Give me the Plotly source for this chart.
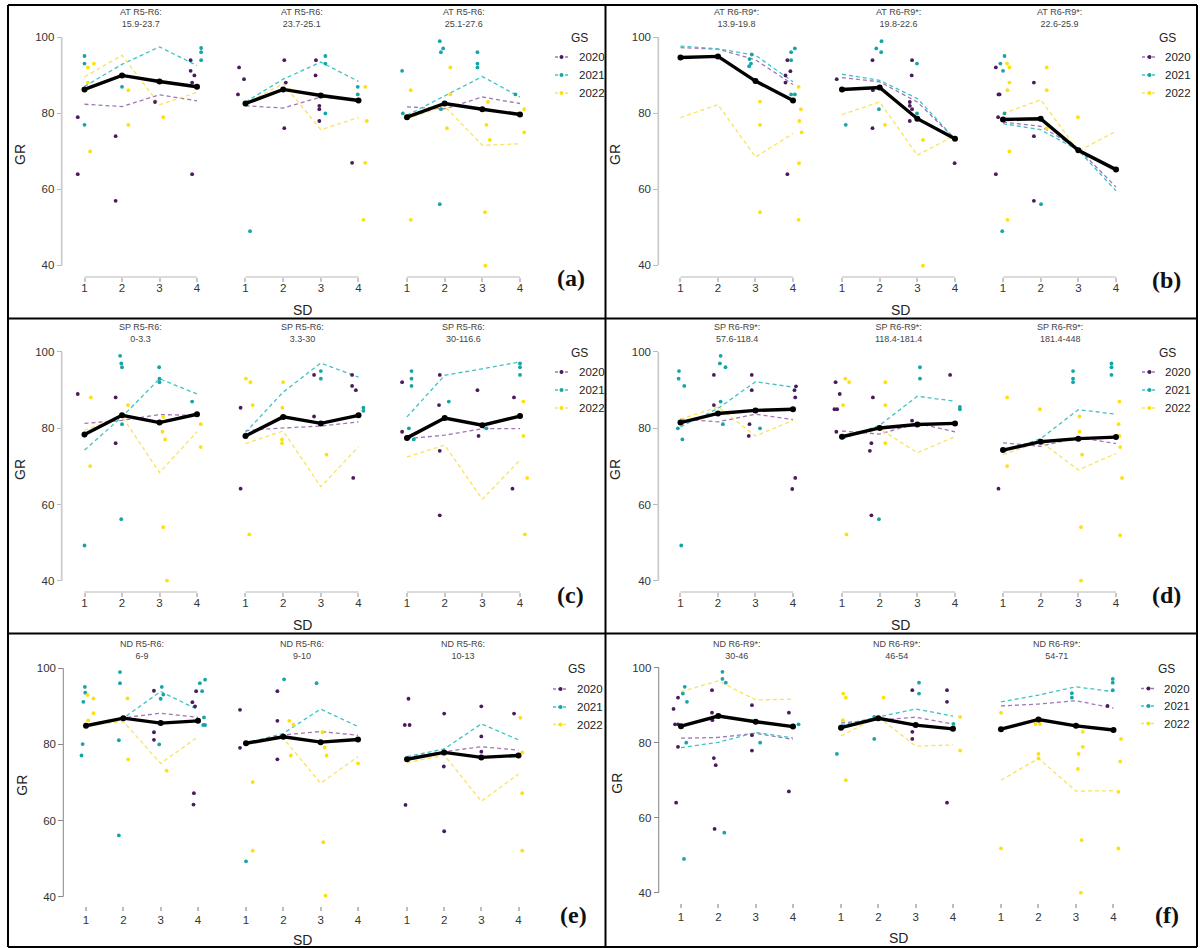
import plotly.graph_objects as go

W, H = 1200, 948

SD = [1, 2, 3, 4]
YEARS = ["2020", "2021", "2022"]

# subplot titles (two lines each)
a_titles = [("AT R5-R6:", "15.9-23.7"), ("AT R5-R6:", "23.7-25.1"), ("AT R5-R6:", "25.1-27.6")]
b_titles = [("AT R6-R9*:", "13.9-19.8"), ("AT R6-R9*:", "19.8-22.6"), ("AT R6-R9*:", "22.6-25.9")]
c_titles = [("SP R5-R6:", "0-3.3"), ("SP R5-R6:", "3.3-30"), ("SP R5-R6:", "30-116.6")]
d_titles = [("SP R6-R9*:", "57.6-118.4"), ("SP R6-R9*:", "118.4-181.4"), ("SP R6-R9*:", "181.4-448")]
e_titles = [("ND R5-R6:", "6-9"), ("ND R5-R6:", "9-10"), ("ND R5-R6:", "10-13")]
f_titles = [("ND R6-R9*:", "30-46"), ("ND R6-R9*:", "46-54"), ("ND R6-R9*:", "54-71")]

# ---- panel (a): yearly mean lines (SD 1..4) per subplot
a_2020 = [[82.3, 81.7, 84.8, 83.2], [81.9, 81.3, 84.2, 83.3], [81.6, 81.1, 84.2, 82.5]]
a_2021 = [[87.0, 92.8, 97.4, 92.5], [82.9, 88.9, 93.4, 88.3], [79.4, 84.6, 89.6, 84.2]]
a_2022 = [[89.5, 95.2, 82.2, 85.4], [82.5, 87.7, 75.6, 78.8], [78.5, 81.8, 71.5, 71.9]]
a_mean = [[86.2, 89.9, 88.3, 86.9], [82.5, 86.2, 84.6, 83.3], [78.9, 82.5, 81.0, 79.6]]
a_pts_2020 = [
    [(0.82, 78.9), (0.82, 63.9), (1.83, 73.9), (1.83, 56.9), (2.88, 82.9), (3.83, 93.9), (3.83, 91.1),
     (3.93, 89.9), (3.87, 88.0), (3.87, 63.9)],
    [(0.83, 92.0), (0.96, 88.9), (0.8, 84.9), (2.03, 93.9), (2.07, 88.0), (2.03, 76.0), (2.87, 93.9),
     (2.86, 89.9), (2.96, 81.9), (2.96, 81.0), (2.96, 77.9), (3.83, 66.9)],
    [],
]
a_pts_2021 = [
    [(1.0, 95.0), (1.0, 93.0), (1.0, 76.9), (2.0, 86.9), (4.11, 97.1), (4.11, 96.0), (4.11, 93.9)],
    [(1.12, 48.9), (3.12, 95.0), (3.12, 93.0), (3.12, 79.9), (3.98, 86.9), (3.98, 84.9)],
    [(0.87, 91.1), (0.89, 79.9), (1.87, 98.9), (1.96, 97.0), (1.9, 96.0), (1.9, 81.0), (1.87, 56.0),
     (2.87, 96.0), (2.87, 93.0), (2.87, 92.0), (3.88, 84.9)],
]
a_pts_2022 = [
    [(1.25, 93.0), (1.09, 92.0), (1.09, 88.0), (1.15, 69.9), (2.17, 86.0), (2.17, 76.9), (3.1, 78.9)],
    [(2.18, 86.0), (4.18, 86.9), (4.22, 77.9), (4.18, 66.9), (4.13, 51.9)],
    [(1.1, 86.0), (1.1, 51.9), (2.15, 92.0), (2.15, 84.9), (2.06, 76.0), (3.15, 82.9), (3.11, 76.9),
     (3.2, 72.9), (3.07, 53.9), (3.08, 39.8), (4.11, 81.0), (4.11, 74.9)],
]

# ---- panel (b)
b_2020 = [[97.2, 96.8, 94.0, 87.5], [89.3, 88.2, 82.9, 73.2], [77.6, 76.5, 70.6, 60.5]]
b_2021 = [[97.6, 96.9, 95.2, 88.2], [90.2, 88.6, 83.8, 73.2], [77.2, 75.6, 70.2, 59.5]]
b_2022 = [[78.8, 82.2, 68.4, 74.6], [79.6, 82.9, 68.9, 74.1], [79.8, 83.5, 70.0, 75.2]]
b_mean = [[94.6, 94.9, 88.4, 83.3], [86.2, 86.7, 78.5, 73.2], [78.3, 78.5, 70.2, 65.1]]
b_pts_2020 = [
    [(3.85, 93.9), (3.93, 91.0), (3.8, 89.9), (3.8, 88.0), (3.85, 63.9)],
    [(0.86, 88.9), (1.81, 93.9), (1.82, 86.0), (1.81, 76.0), (2.86, 93.9), (2.85, 89.9), (2.8, 82.9),
     (2.8, 81.9), (2.86, 81.0), (2.8, 77.9), (3.99, 66.8)],
    [(0.81, 92.0), (0.88, 84.9), (0.91, 84.9), (0.87, 78.9), (0.81, 63.9), (1.82, 88.0), (1.82, 73.9),
     (1.82, 56.9)],
]
b_pts_2021 = [
    [(2.83, 92.3), (2.88, 93.0), (2.9, 95.4), (2.84, 94.2), (3.95, 96.0), (4.05, 97.0), (3.95, 93.9),
     (4.05, 84.9), (3.95, 84.9)],
    [(1.1, 76.9), (1.91, 97.0), (2.05, 98.9), (2.04, 96.0), (1.98, 81.0), (2.99, 93.0), (2.99, 79.9),
     (4.0, 73.2)],
    [(0.93, 93.0), (1.04, 95.0), (1.0, 91.1), (1.04, 79.9), (0.98, 48.9), (2.01, 56.0)],
]
b_pts_2022 = [
    [(3.12, 83.0), (3.12, 76.9), (3.12, 53.9), (4.15, 86.9), (4.21, 81.0), (4.17, 77.9), (4.23, 74.9),
     (4.16, 66.8), (4.15, 51.9)],
    [(2.14, 76.9), (3.15, 72.9), (3.15, 39.8)],
    [(1.11, 93.0), (1.17, 92.0), (1.17, 88.0), (1.12, 86.0), (1.17, 69.9), (1.12, 51.9), (2.16, 92.0),
     (2.16, 86.0), (2.16, 76.0), (2.99, 78.9)],
]

# ---- panel (c)
c_2020 = [[81.3, 82.1, 83.6, 83.4], [79.4, 80.1, 80.6, 81.7], [77.3, 78.2, 79.9, 79.9]]
c_2021 = [[74.3, 83.0, 93.0, 89.0], [78.9, 89.5, 97.1, 93.4], [83.0, 93.9, 95.6, 97.4]]
c_2022 = [[79.5, 83.2, 68.4, 79.1], [76.0, 79.3, 64.7, 75.2], [72.5, 75.6, 61.4, 71.7]]
c_mean = [[78.4, 83.4, 81.5, 83.7], [78.0, 83.0, 81.3, 83.4], [77.5, 82.7, 80.8, 83.2]]
c_pts_2020 = [
    [(0.82, 89.0), (1.83, 88.1), (1.83, 76.1)],
    [(0.87, 85.4), (0.87, 64.2), (2.82, 94.0), (2.82, 83.1), (3.83, 94.0), (3.83, 91.1), (3.93, 90.0),
     (3.86, 67.0)],
    [(0.87, 92.1), (0.87, 79.1), (1.87, 94.0), (1.85, 86.1), (1.87, 74.1), (1.87, 57.2), (2.87, 90.0),
     (2.9, 78.0), (3.84, 88.1), (3.8, 64.2)],
]
c_pts_2021 = [
    [(1.0, 49.3), (1.95, 99.0), (1.98, 97.0), (2.0, 96.0), (2.0, 81.1), (1.98, 56.2), (2.99, 96.0),
     (3.0, 93.0), (3.0, 92.1), (3.87, 87.0)],
    [(3.0, 95.0), (3.0, 93.0), (4.13, 85.4), (4.13, 84.6)],
    [(1.12, 95.0), (1.12, 93.0), (1.12, 91.1), (1.05, 80.0), (1.18, 77.1), (2.11, 87.0), (3.11, 80.0),
     (4.0, 97.0), (4.0, 96.0), (4.0, 94.0)],
]
c_pts_2022 = [
    [(1.17, 88.1), (1.15, 70.1), (2.16, 86.1), (3.08, 79.1), (3.15, 77.1), (3.1, 83.0), (3.1, 54.1),
     (3.2, 40.1), (4.1, 81.1), (4.1, 75.1)],
    [(1.01, 93.0), (1.13, 92.1), (1.19, 86.1), (1.1, 52.2), (2.0, 92.1), (1.98, 85.4), (1.97, 77.1),
     (1.97, 76.1), (3.15, 73.1)],
    [(4.09, 87.0), (4.09, 78.0), (4.19, 67.0), (4.13, 52.2)],
]

# ---- panel (d)
d_2020 = [[82.4, 81.7, 83.7, 82.3], [79.3, 78.5, 81.3, 79.1], [76.2, 75.3, 77.6, 76.0]]
d_2021 = [[80.4, 85.2, 92.2, 90.8], [77.2, 80.8, 88.4, 87.1], [73.8, 77.3, 84.9, 83.7]]
d_2022 = [[82.4, 85.6, 78.0, 82.1], [77.5, 79.9, 73.6, 77.8], [73.1, 76.5, 69.1, 73.4]]
d_mean = [[81.5, 83.9, 84.7, 85.0], [77.8, 80.1, 81.0, 81.3], [74.3, 76.5, 77.3, 77.7]]
d_pts_2020 = [
    [(1.89, 94.0), (1.89, 86.1), (2.9, 94.0), (2.9, 90.0), (2.84, 81.1), (2.82, 78.0), (4.08, 91.0),
     (4.04, 90.0), (4.06, 88.1), (4.06, 67.0), (3.98, 64.1)],
    [(0.83, 92.1), (0.94, 89.0), (0.8, 85.0), (0.87, 85.0), (0.85, 79.1), (1.82, 88.1), (1.78, 76.1),
     (1.74, 74.1), (1.78, 57.2), (2.86, 82.0), (3.87, 94.0)],
    [(0.88, 64.2)],
]
d_pts_2021 = [
    [(0.96, 95.0), (0.95, 93.0), (1.1, 91.1), (1.05, 77.1), (0.93, 80.0), (1.02, 49.3), (2.05, 97.0),
     (2.07, 99.0), (2.2, 96.0), (2.07, 87.0), (2.13, 81.1), (3.12, 80.0)],
    [(1.98, 56.2), (3.07, 96.0), (3.07, 93.0), (4.13, 85.0), (4.13, 85.6)],
    [(2.86, 95.0), (2.86, 93.0), (2.86, 92.1), (3.88, 97.0), (3.88, 96.0), (3.88, 94.0)],
]
d_pts_2022 = [
    [],
    [(1.09, 93.0), (1.19, 92.1), (1.03, 86.1), (1.12, 52.2), (2.15, 92.1), (2.15, 86.1), (2.15, 76.1)],
    [(1.11, 88.1), (1.11, 70.1), (1.98, 85.0), (3.03, 83.1), (3.03, 79.1), (3.1, 73.1), (3.07, 54.1),
     (3.07, 40.1), (4.09, 87.0), (4.07, 81.1), (4.09, 78.0), (4.11, 75.1), (4.16, 67.0), (4.11, 52.0)],
]

# ---- panel (e)
e_2020 = [[84.9, 87.0, 88.2, 87.1], [80.3, 82.5, 83.4, 82.4], [76.5, 78.1, 79.4, 78.5]]
e_2021 = [[84.9, 86.9, 93.9, 89.1], [80.3, 82.9, 89.3, 84.7], [76.8, 78.8, 85.4, 81.2]]
e_2022 = [[85.1, 86.0, 75.0, 82.0], [80.3, 81.6, 69.8, 76.8], [75.2, 77.2, 65.1, 72.2]]
e_mean = [[84.9, 86.9, 85.6, 86.2], [80.3, 82.0, 80.6, 81.3], [76.1, 77.9, 76.6, 77.1]]
e_pts_2020 = [
    [(2.82, 94.1), (2.82, 83.2), (2.82, 81.2), (3.85, 91.1), (3.92, 90.0), (3.95, 94.0), (3.89, 67.2),
     (3.88, 64.2)],
    [(0.84, 89.1), (0.84, 79.1), (1.84, 94.0), (1.84, 86.2), (1.84, 76.1)],
    [(1.04, 92.0), (0.94, 85.1), (1.07, 85.1), (0.96, 64.1), (2.0, 88.1), (1.99, 74.2), (2.0, 57.2),
     (3.0, 90.0), (3.0, 82.1), (3.0, 78.1), (3.88, 88.1)],
]
e_pts_2021 = [
    [(0.97, 95.1), (0.98, 93.6), (0.93, 91.2), (0.91, 80.1), (0.88, 77.1), (1.91, 99.0), (1.91, 96.1),
     (1.88, 81.1), (1.88, 56.1), (3.03, 95.1), (3.07, 93.1), (3.0, 92.0), (2.96, 80.0), (4.05, 96.1),
     (4.19, 97.0), (4.11, 94.0), (4.16, 87.1), (4.14, 85.1), (4.19, 85.1)],
    [(1.0, 49.3), (2.02, 97.1), (2.89, 96.1)],
    [],
]
e_pts_2022 = [
    [(1.04, 93.0), (1.2, 92.1), (1.2, 88.2), (1.06, 86.3), (2.11, 92.1), (2.13, 76.1), (3.16, 73.1)],
    [(1.18, 70.1), (1.18, 52.1), (2.16, 86.2), (2.27, 85.2), (2.2, 77.1), (3.05, 83.2), (3.11, 79.2),
     (3.16, 77.1), (3.07, 54.3), (3.13, 40.3), (4.0, 75.0)],
    [(4.05, 87.0), (4.1, 77.9), (4.1, 67.2), (4.1, 52.1)],
]

# ---- panel (f)
f_2020 = [[81.2, 81.4, 82.5, 80.9], [85.3, 86.0, 86.8, 85.0], [89.8, 90.3, 91.2, 89.2]]
f_2021 = [[78.7, 80.1, 82.7, 81.3], [84.7, 86.8, 89.0, 87.1], [90.9, 92.7, 94.9, 93.6]]
f_2022 = [[93.6, 96.5, 91.4, 91.6], [81.8, 86.9, 79.1, 79.4], [70.0, 75.8, 67.1, 67.2]]
f_mean = [[84.4, 87.1, 85.6, 84.3], [84.0, 86.5, 84.7, 83.7], [83.6, 86.2, 84.5, 83.4]]
f_pts_2020 = [
    [(0.8, 89.0), (0.92, 92.0), (0.84, 84.9), (0.92, 84.9), (0.92, 78.9), (0.87, 64.0), (1.83, 94.0),
     (1.83, 88.0), (1.84, 86.0), (1.88, 75.9), (1.93, 74.0), (1.9, 57.0), (2.9, 90.0), (2.9, 82.0),
     (2.9, 77.9), (3.89, 88.0), (3.89, 67.0)],
    [(2.91, 94.0), (2.91, 82.9), (2.91, 81.0), (3.84, 94.0), (3.84, 90.9), (3.84, 64.0)],
    [(3.84, 89.8)],
]
f_pts_2021 = [
    [(1.1, 94.9), (1.05, 93.1), (1.16, 90.9), (1.14, 80.0), (1.08, 49.0), (2.11, 98.9), (2.11, 97.0),
     (2.2, 96.0), (2.16, 56.0), (3.12, 80.0), (4.15, 84.9)],
    [(0.89, 77.0), (1.89, 81.0), (1.89, 86.9), (3.09, 96.0), (3.09, 93.1), (4.01, 85.0)],
    [(2.89, 93.2), (2.89, 92.0), (3.98, 97.0), (3.98, 96.0), (3.98, 94.0)],
]
f_pts_2022 = [
    [],
    [(1.06, 93.1), (1.13, 92.0), (1.05, 86.0), (1.13, 70.0), (2.14, 92.0), (4.19, 86.9), (4.19, 77.9)],
    [(1.0, 88.0), (1.0, 51.8), (1.92, 85.0), (2.04, 85.0), (2.0, 77.0), (2.0, 75.8), (3.18, 82.9),
     (3.18, 78.9), (3.07, 77.0), (3.05, 73.0), (3.15, 54.0), (3.13, 40.0), (4.2, 81.0), (4.18, 75.0),
     (4.13, 66.9), (4.13, 51.8)],
]

PANELS = [
    ("(a)", a_titles, [a_2020, a_2021, a_2022], a_mean, [a_pts_2020, a_pts_2021, a_pts_2022]),
    ("(b)", b_titles, [b_2020, b_2021, b_2022], b_mean, [b_pts_2020, b_pts_2021, b_pts_2022]),
    ("(c)", c_titles, [c_2020, c_2021, c_2022], c_mean, [c_pts_2020, c_pts_2021, c_pts_2022]),
    ("(d)", d_titles, [d_2020, d_2021, d_2022], d_mean, [d_pts_2020, d_pts_2021, d_pts_2022]),
    ("(e)", e_titles, [e_2020, e_2021, e_2022], e_mean, [e_pts_2020, e_pts_2021, e_pts_2022]),
    ("(f)", f_titles, [f_2020, f_2021, f_2022], f_mean, [f_pts_2020, f_pts_2021, f_pts_2022]),
]

# colours
PT_COLORS = ["#4a1a5e", "#17a4a4", "#fde00c"]
LN_COLORS = ["#a176b4", "#3fc3c3", "#f9e35e"]

# layout geometry in pixels, one entry per panel
LEFT_X = [(84.5, 197.0), (245.5, 358.5), (407.0, 520.0)]
RIGHT_X = [(680.5, 793.0), (842.0, 955.0), (1003.0, 1116.0)]
GEOM = [
    dict(xt=LEFT_X, y100=37, y40=265, xl=277, yx=61.7, ty=18, gr=(20, 155), sd=(302, 310), tag=(571, 278),
         lg=(579, 38, [57, 75, 93], 555, 568, 577), old=False),
    dict(xt=RIGHT_X, y100=37, y40=265, xl=277, yx=658.3, ty=18, gr=(615, 155), sd=(900, 310), tag=(1166, 280),
         lg=(1167, 38, [57, 75, 93], 1142, 1157, 1163), old=False),
    dict(xt=LEFT_X, y100=352, y40=581, xl=592, yx=61.7, ty=333, gr=(20, 470), sd=(302, 625), tag=(570, 595),
         lg=(579, 353, [372, 390, 408], 555, 568, 577), old=False),
    dict(xt=RIGHT_X, y100=352, y40=581, xl=592, yx=658.3, ty=333, gr=(615, 470), sd=(900, 625), tag=(1166, 595),
         lg=(1167, 353, [372, 390, 408], 1142, 1157, 1163), old=False),
    dict(xt=[(86, 198), (246, 358), (407, 518.5)], y100=668.3, y40=896.7, xl=906, yx=63.3, ty=649.5,
         gr=(21.7, 785), sd=(302, 940), tag=(573, 915), lg=(576, 669, [689, 707, 724.5], 553, 568, 575), old=True),
    dict(xt=[(681, 793), (841, 953), (1001, 1113.5)], y100=667.7, y40=892.7, xl=903, yx=658.7, ty=649.5,
         gr=(616.7, 783), sd=(898, 938), tag=(1167, 915), lg=(1166, 669, [688.5, 706, 723.5], 1141, 1156, 1162),
         old=True),
]

XR = (0.65, 4.35)
YR = (38, 102)


def px(x):
    return x / W


def py(y):
    return 1 - y / H


def note(x, y, text, size, color="#222", family="Liberation Sans", **kw):
    return dict(x=px(x), y=py(y), xref="paper", yref="paper", showarrow=False, text=text,
                xanchor=kw.pop("xanchor", "center"), yanchor="middle",
                font=dict(family=family, size=size, color=color), **kw)


fig = go.Figure()
layout = {}
annotations = []
shapes = []

for i, (tag, titles, year_lines, mean_line, year_pts) in enumerate(PANELS):
    g = GEOM[i]
    yppu = (g["y40"] - g["y100"]) / 60.0
    for s in range(3):
        n = i * 3 + s + 1
        ax = "" if n == 1 else str(n)
        xref, yref = "x" + ax, "y" + ax
        x0, x1 = g["xt"][s]
        xppu = (x1 - x0) / 3.0
        layout["xaxis" + ax] = dict(
            domain=[px(x0 - (1 - XR[0]) * xppu), px(x1 + (XR[1] - 4) * xppu)], range=list(XR),
            anchor="free", position=py(g["xl"]),
            tickvals=SD, ticks="outside", ticklen=4, tickwidth=1.5,
            tickcolor="#c8c8c8" if not g["old"] else "#bdbdbd",
            showline=False, showgrid=False, zeroline=False,
            ticklabelstandoff=-4 if not g["old"] else -1,
            tickfont=dict(family="Liberation Sans", size=11.5, color="#333"),
        )
        layout["yaxis" + ax] = dict(
            domain=[py(g["y40"] + (40 - YR[0]) * yppu), py(g["y100"] - (YR[1] - 100) * yppu)], range=list(YR),
            anchor="free", position=px(g["yx"]),
            tickvals=[40, 60, 80, 100], ticks="outside", ticklen=5, tickwidth=1.2,
            tickcolor="#bbbbbb" if not g["old"] else "#888888",
            showline=False, showgrid=False, zeroline=False, visible=(s == 0),
            tickfont=dict(family="Liberation Sans", size=11.5, color="#333"),
        )

        # R-style axis lines that stop at the end ticks
        if not g["old"]:
            shapes.append(dict(type="line", xref=xref, yref="paper", x0=1, x1=4, y0=py(g["xl"]), y1=py(g["xl"]),
                               line=dict(color="#cfcfcf", width=1.5)))
        if s == 0:
            shapes.append(dict(type="line", xref="paper", yref=yref, x0=px(g["yx"]), x1=px(g["yx"]), y0=40, y1=100,
                               line=dict(color="#cccccc" if not g["old"] else "#8e8e8e",
                                         width=1.8 if not g["old"] else 1.1)))

        # dashed yearly lines
        for k in range(3):
            fig.add_trace(go.Scatter(
                x=SD, y=year_lines[k][s], mode="lines", xaxis=xref, yaxis=yref, showlegend=False,
                line=dict(color=LN_COLORS[k], width=1.3, dash="4px,3px"), hoverinfo="skip",
            ))
        # single observations
        for k in range(3):
            pts = year_pts[k][s]
            fig.add_trace(go.Scatter(
                x=[p[0] for p in pts], y=[p[1] for p in pts], mode="markers", xaxis=xref, yaxis=yref,
                showlegend=False, cliponaxis=False, name=YEARS[k],
                marker=dict(color=PT_COLORS[k], size=3.8),
            ))
        # overall mean
        fig.add_trace(go.Scatter(
            x=SD, y=mean_line[s], mode="lines+markers", xaxis=xref, yaxis=yref, showlegend=False,
            cliponaxis=False, line=dict(color="black", width=3.4), marker=dict(color="black", size=6),
        ))

        annotations.append(note((x0 + x1) / 2, g["ty"], titles[s][0] + "<br>" + titles[s][1], 9, "#444"))

    # axis titles and tag
    annotations.append(note(g["gr"][0], g["gr"][1], "GR", 14, textangle=-90))
    annotations.append(note(g["sd"][0], g["sd"][1], "SD", 14))
    annotations.append(note(g["tag"][0], g["tag"][1], "<b>" + tag + "</b>", 24, "#111", "Liberation Serif"))

    # legend "GS"
    gx, gy, ly, sx0, sx1, tx = g["lg"]
    annotations.append(note(gx, gy, "GS", 12))
    for k in range(3):
        shapes.append(dict(type="line", xref="paper", yref="paper", x0=px(sx0), x1=px(sx1),
                           y0=py(ly[k]), y1=py(ly[k]), line=dict(color=LN_COLORS[k], width=1.4, dash="3px,2px")))
        cx = (sx0 + sx1) / 2
        shapes.append(dict(type="circle", xref="paper", yref="paper", x0=px(cx - 2), x1=px(cx + 2),
                           y0=py(ly[k] + 2), y1=py(ly[k] - 2), fillcolor=PT_COLORS[k], line=dict(width=0)))
        annotations.append(note(tx, ly[k], YEARS[k], 11.5, xanchor="left"))

# panel frame lines
for x in [8, 605.5, 1197]:
    shapes.append(dict(type="line", xref="paper", yref="paper", x0=px(x), x1=px(x), y0=py(5), y1=py(947),
                       line=dict(color="black", width=2)))
for y in [5, 318.5, 633.5, 947]:
    shapes.append(dict(type="line", xref="paper", yref="paper", x0=px(8), x1=px(1197), y0=py(y), y1=py(y),
                       line=dict(color="black", width=2)))

fig.update_layout(**layout)
fig.update_layout(
    width=W, height=H, margin=dict(l=0, r=0, t=0, b=0),
    paper_bgcolor="white", plot_bgcolor="white",
    annotations=annotations, shapes=shapes, showlegend=False,
)

fig.write_html("out.html", config={"displayModeBar": False},
               post_script="document.body.style.margin='0px';")
